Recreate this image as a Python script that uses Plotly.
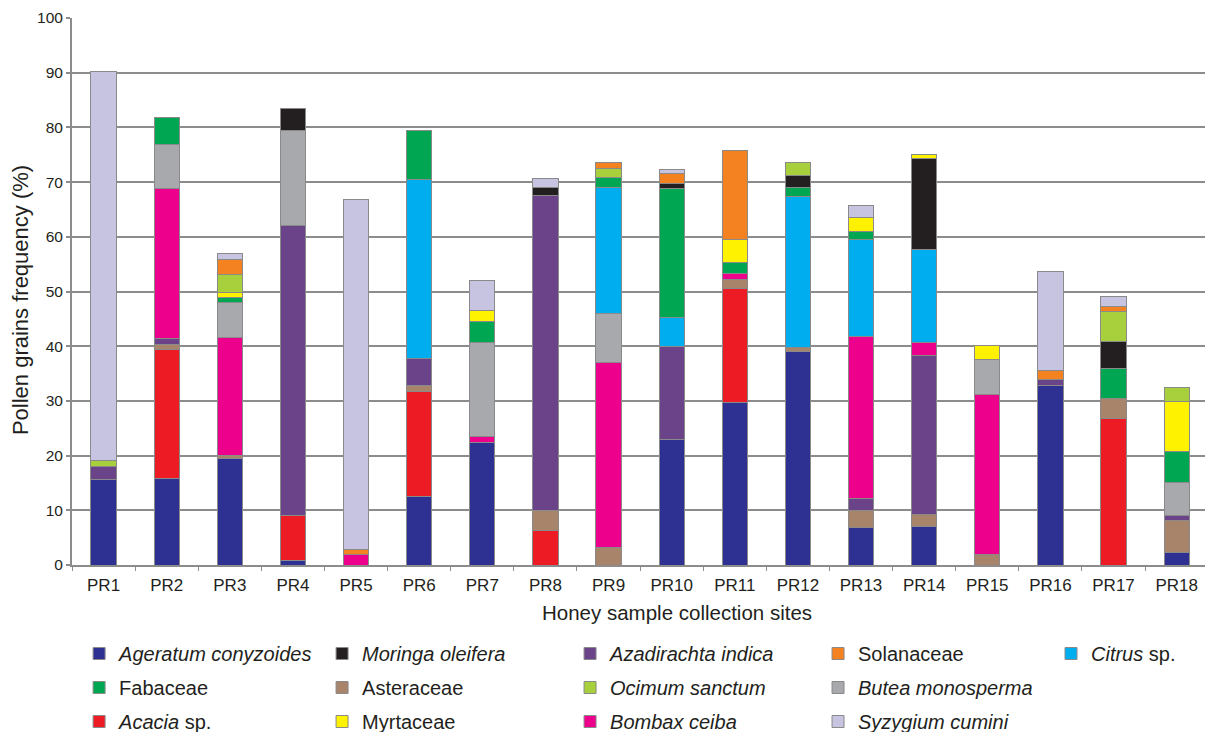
import plotly.graph_objects as go

# Honey sample collection sites
sites = ["PR1", "PR2", "PR3", "PR4", "PR5", "PR6", "PR7", "PR8", "PR9",
         "PR10", "PR11", "PR12", "PR13", "PR14", "PR15", "PR16", "PR17", "PR18"]

# Pollen grains frequency (%) per taxon and site
ageratum = [15.7, 15.8, 19.4, 0.9, 0, 12.6, 22.4, 0, 0, 22.9, 29.7, 39.1, 6.9, 7.1, 0, 32.8, 0, 2.3]
acacia = [0, 23.6, 0, 8.1, 0, 19.2, 0, 6.3, 0, 0, 20.8, 0, 0, 0, 0, 0, 26.8, 0]
asteraceae = [0, 1.0, 0.6, 0, 0, 1.0, 0, 3.6, 3.2, 0, 1.7, 0.7, 3.0, 2.2, 2.0, 0, 3.7, 5.8]
azadirachta = [2.3, 1.0, 0, 53.0, 0, 5.0, 0, 57.7, 0, 17.0, 0, 0, 2.3, 29.0, 0, 1.2, 0, 0.9]
bombax = [0, 27.5, 21.6, 0, 1.9, 0, 1.1, 0, 33.9, 0, 1.1, 0, 29.5, 2.3, 29.1, 0, 0, 0]
butea = [0, 8.0, 6.3, 17.5, 0, 0, 17.1, 0, 8.9, 0, 0, 0, 0, 0, 6.5, 0, 0, 6.1]
citrus = [0, 0, 0, 0, 0, 32.6, 0, 0, 23.1, 5.4, 0, 27.5, 17.8, 17.0, 0, 0, 0, 0]
fabaceae = [0, 5.0, 1.0, 0, 0, 9.0, 3.9, 0, 1.8, 23.5, 2.0, 1.7, 1.5, 0, 0, 0, 5.5, 5.7]
moringa = [0, 0, 0, 4.0, 0, 0, 0, 1.4, 0, 0.9, 0, 2.2, 0, 16.7, 0, 0, 4.9, 0]
myrtaceae = [0, 0, 0.9, 0, 0, 0, 2.1, 0, 0, 0, 4.2, 0, 2.5, 0.7, 2.5, 0, 0, 9.1]
ocimum = [1.1, 0, 3.3, 0, 0, 0, 0, 0, 1.6, 0, 0, 2.4, 0, 0, 0, 0, 5.4, 2.5]
solanaceae = [0, 0, 2.8, 0, 1.0, 0, 0, 0, 1.0, 1.9, 16.3, 0, 0, 0, 0, 1.5, 1.0, 0]
syzygium = [71.2, 0, 1.1, 0, 63.9, 0, 5.5, 1.6, 0, 0.7, 0, 0, 2.2, 0, 0, 18.1, 1.8, 0]

# Stacking order (bottom to top): legend label, values, fill colour, legend column, row
series = [
    ("<i>Ageratum conyzoides</i>", ageratum, "#2e3192", "legend", 1),
    ("<i>Acacia</i> sp.", acacia, "#ed1c24", "legend", 3),
    ("Asteraceae", asteraceae, "#a7846a", "legend2", 2),
    ("<i>Azadirachta indica</i>", azadirachta, "#6a4388", "legend3", 1),
    ("<i>Bombax ceiba</i>", bombax, "#ec008c", "legend3", 3),
    ("<i>Butea monosperma</i>", butea, "#a7a9ac", "legend4", 2),
    ("<i>Citrus</i> sp.", citrus, "#00aeef", "legend5", 1),
    ("Fabaceae", fabaceae, "#00a651", "legend", 2),
    ("<i>Moringa oleifera</i>", moringa, "#231f20", "legend2", 1),
    ("Myrtaceae", myrtaceae, "#fff200", "legend2", 3),
    ("<i>Ocimum sanctum</i>", ocimum, "#a8cf3c", "legend3", 2),
    ("Solanaceae", solanaceae, "#f58220", "legend4", 1),
    ("<i>Syzygium cumini</i>", syzygium, "#c6c4e1", "legend4", 3),
]

TEXT = "#231f20"
GRID = "#8c8c8c"
FONT = "Liberation Sans, Arial, sans-serif"

fig = go.Figure()
for name, vals, color, leg, row in series:
    fig.add_trace(go.Bar(
        x=sites,
        y=[v if v else None for v in vals],
        name=name,
        marker=dict(color=color, line=dict(color="#8a8a8a", width=1)),
        width=0.4,
        legend=leg,
        legendgroup=name,
        legendrank=row,
    ))

plot_left, plot_w = 71.9, 1205 - 71.9
plot_bottom, plot_h = 565, 547


def px_x(px):
    return (px - plot_left) / plot_w


def px_y(px):
    return (plot_bottom - px) / plot_h


def legend_box(px_left):
    return dict(
        x=px_x(px_left),
        y=px_y(634),
        xanchor="left", yanchor="top",
        orientation="v",
        traceorder="grouped",
        tracegroupgap=5,
        font=dict(family=FONT, size=20, color=TEXT),
        bgcolor="rgba(0,0,0,0)",
        borderwidth=0,
    )


fig.update_layout(
    width=1205, height=732,
    margin=dict(l=71.9, r=0, t=18, b=167, autoexpand=False),
    paper_bgcolor="white", plot_bgcolor="white",
    barmode="stack",
    font=dict(family=FONT, color=TEXT),
    showlegend=True,
    legend=legend_box(79),
    legend2=legend_box(322),
    legend3=legend_box(570),
    legend4=legend_box(818),
    legend5=legend_box(1051),
    xaxis=dict(
        range=[-0.5, 17.449],
        automargin=False,
        tickson="boundaries",
        ticks="outside", ticklen=4, tickcolor=GRID, tickwidth=1,
        ticklabelstandoff=4,
        showline=True, linecolor=GRID, linewidth=2,
        showgrid=False,
        tickfont=dict(size=17, color=TEXT),
    ),
    yaxis=dict(
        range=[0, 100], dtick=10,
        automargin=False,
        ticks="outside", ticklen=4, tickcolor=GRID, tickwidth=2,
        showline=True, linecolor=GRID, linewidth=2,
        showgrid=True, gridcolor=GRID, gridwidth=2,
        zeroline=False,
        tickfont=dict(size=15.5, color=TEXT),
    ),
    annotations=[
        dict(text="Honey sample collection sites", showarrow=False,
             xref="paper", yref="paper", x=px_x(677), y=px_y(612),
             xanchor="center", yanchor="middle",
             font=dict(family=FONT, size=20.5, color=TEXT)),
        dict(text="Pollen grains frequency (%)", showarrow=False, textangle=-90,
             xref="paper", yref="paper", x=px_x(21), y=px_y(300),
             xanchor="center", yanchor="middle",
             font=dict(family=FONT, size=22, color=TEXT)),
    ],
)

fig.write_html("out.html")
